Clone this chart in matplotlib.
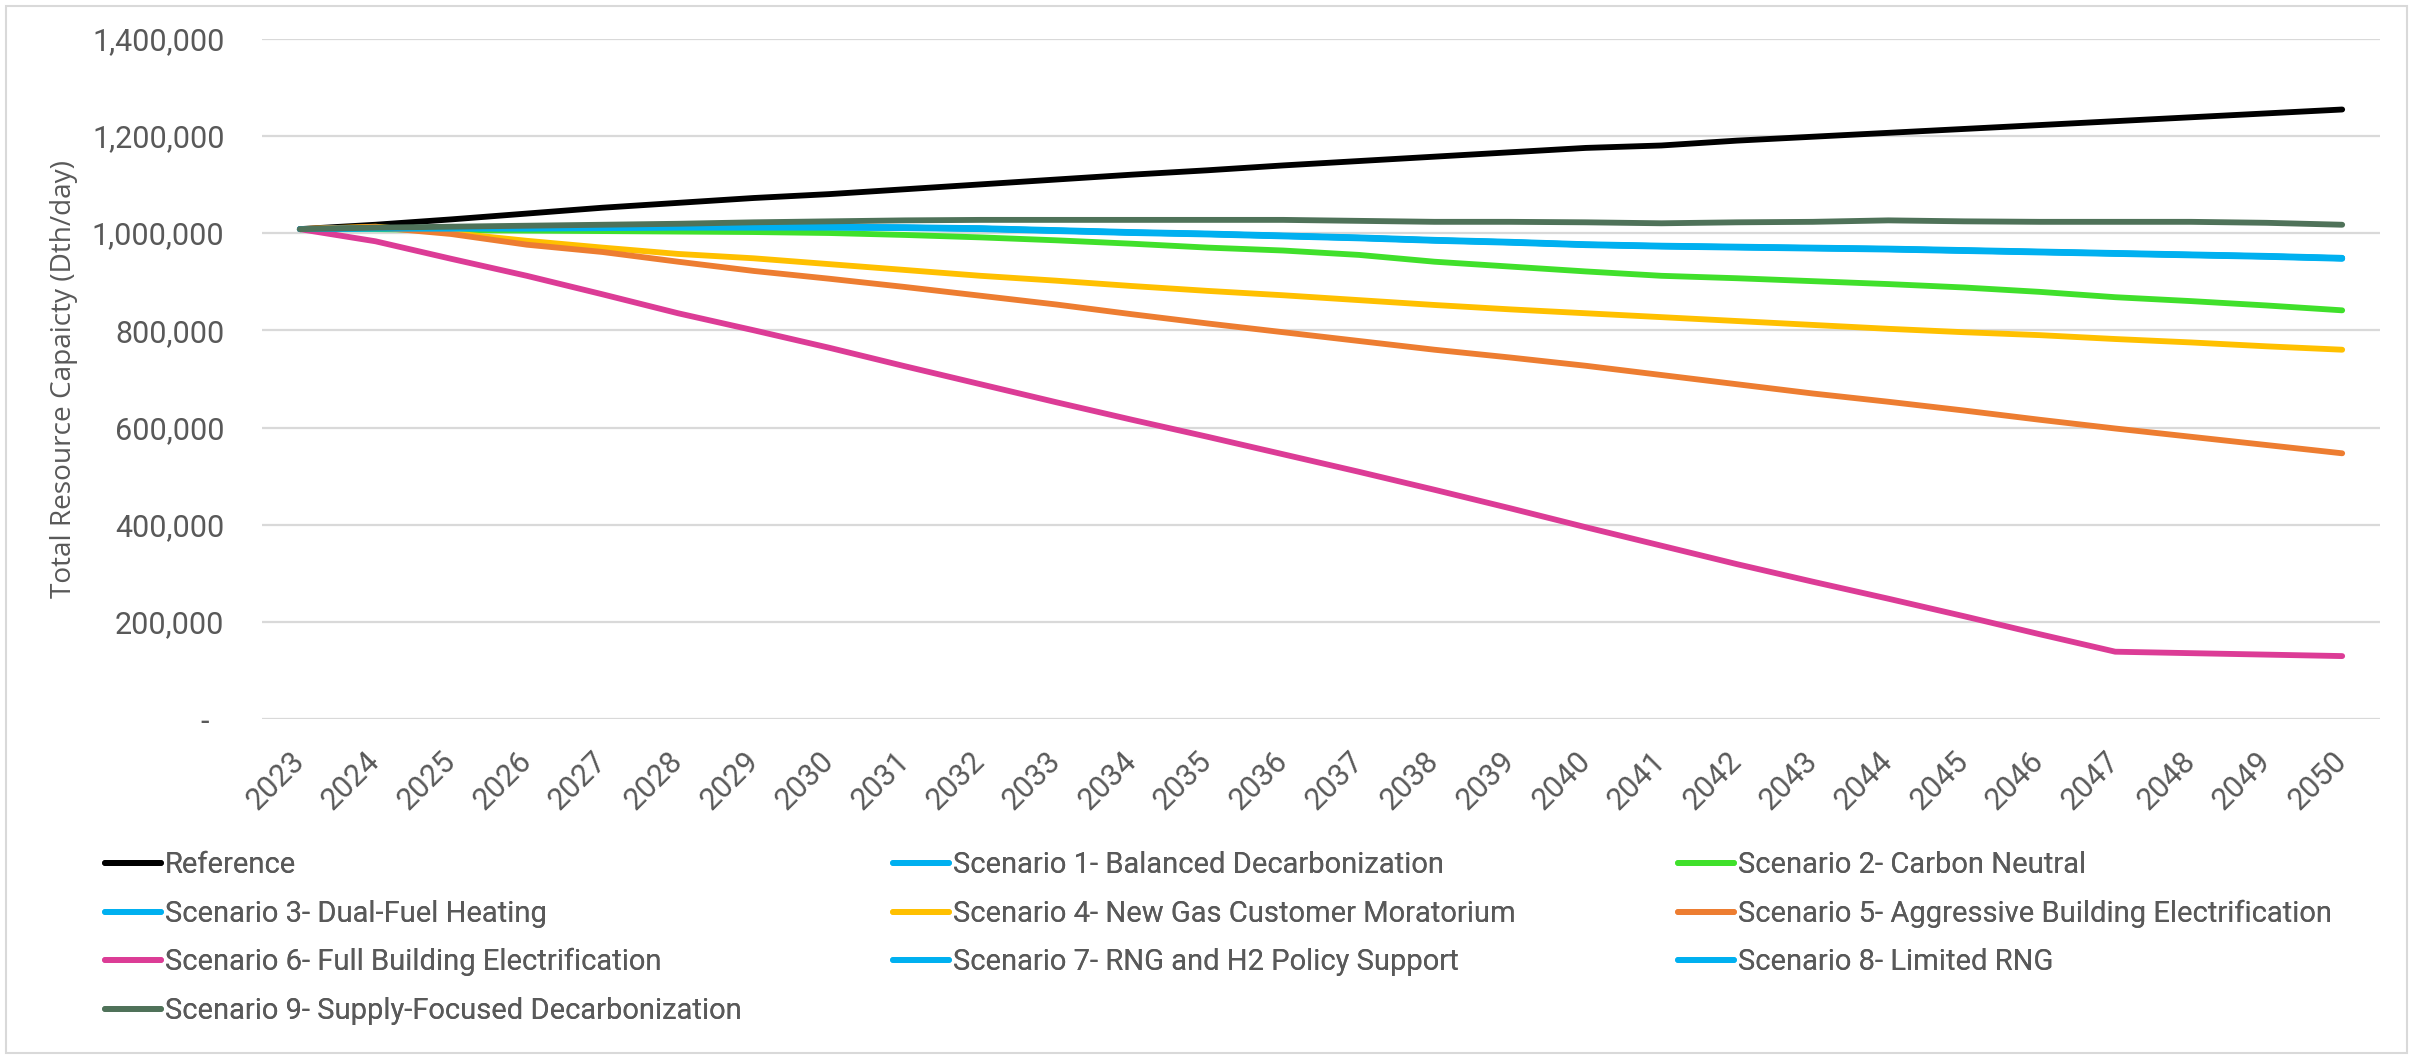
import matplotlib
matplotlib.use("Agg")
import matplotlib.pyplot as plt
from matplotlib.patches import Rectangle
from matplotlib.ticker import FuncFormatter, MultipleLocator
from matplotlib.textpath import TextPath
from matplotlib.font_manager import FontProperties

years = [str(y) for y in range(2023, 2051)]

reference = [1008000, 1017000, 1028000, 1040000, 1052000, 1062000, 1072000, 1080000,
             1090000, 1100000, 1110000, 1120000, 1129000, 1139000, 1148000, 1157000,
             1166000, 1175000, 1180000, 1190000, 1198000, 1206000, 1214000, 1222000,
             1230000, 1238000, 1246000, 1254000]
scenario1 = [1008000, 1010000, 1010000, 1010000, 1011000, 1012000, 1012000, 1012000,
             1011000, 1009000, 1005000, 1001000, 998000, 994000, 990000, 985000,
             981000, 976000, 973000, 971000, 969000, 967000, 964000, 961000,
             958000, 955000, 952000, 948000]
scenario2 = [1008000, 1008000, 1006000, 1005000, 1004000, 1003000, 1002000, 1000000,
             996000, 991000, 985000, 978000, 970000, 964000, 955000, 941000,
             931000, 921000, 912000, 907000, 901000, 895000, 888000, 879000,
             868000, 860000, 851000, 841000]
scenario3 = [1008000, 1010000, 1011000, 1011000, 1012000, 1013000, 1013000, 1013000,
             1012000, 1010000, 1006000, 1002000, 999000, 995000, 991000, 986000,
             982000, 977000, 974000, 972000, 970000, 968000, 965000, 962000,
             959000, 956000, 953000, 949000]
scenario4 = [1008000, 1013000, 1000000, 984000, 970000, 957000, 948000, 936000,
             924000, 912000, 902000, 891000, 881000, 872000, 862000, 852000,
             843000, 835000, 827000, 819000, 811000, 803000, 796000, 790000,
             782000, 775000, 767000, 760000]
scenario5 = [1008000, 1012000, 998000, 976000, 961000, 941000, 922000, 906000,
             889000, 871000, 853000, 833000, 814000, 796000, 778000, 760000,
             744000, 727000, 708000, 689000, 670000, 653000, 635000, 616000,
             598000, 581000, 564000, 547000]
scenario6 = [1008000, 983000, 947000, 912000, 874000, 835000, 800000, 764000,
             726000, 689000, 652000, 616000, 581000, 545000, 509000, 472000,
             434000, 395000, 357000, 319000, 283000, 248000, 212000, 175000,
             139000, 136000, 133000, 130000]
scenario7 = [1008000, 1009000, 1009000, 1009000, 1010000, 1011000, 1011000, 1011000,
             1010000, 1008000, 1004000, 1000000, 997000, 993000, 989000, 984000,
             980000, 975000, 972000, 970000, 968000, 966000, 963000, 960000,
             957000, 954000, 951000, 947000]
scenario8 = [1008000, 1010000, 1010000, 1010000, 1011000, 1012000, 1012000, 1012000,
             1011000, 1009000, 1005000, 1001000, 998000, 994000, 990000, 985000,
             981000, 976000, 973000, 971000, 969000, 967000, 964000, 961000,
             958000, 955000, 952000, 948000]
scenario9 = [1008000, 1011000, 1013000, 1015000, 1017000, 1019000, 1022000, 1024000,
             1026000, 1027000, 1027000, 1027000, 1027000, 1027000, 1025000, 1023000,
             1023000, 1022000, 1020000, 1022000, 1023000, 1026000, 1024000, 1023000,
             1023000, 1023000, 1021000, 1017000]

series_names = ["Reference",
                "Scenario 1- Balanced Decarbonization",
                "Scenario 2- Carbon Neutral",
                "Scenario 3- Dual-Fuel Heating",
                "Scenario 4- New Gas Customer Moratorium",
                "Scenario 5- Aggressive Building Electrification",
                "Scenario 6- Full Building Electrification",
                "Scenario 7- RNG and H2 Policy Support",
                "Scenario 8- Limited RNG",
                "Scenario 9- Supply-Focused Decarbonization"]
series_values = [reference, scenario1, scenario2, scenario3, scenario4,
                 scenario5, scenario6, scenario7, scenario8, scenario9]
colors = ["#000000", "#00B0F0", "#40E02B", "#00B0F0", "#FFC000",
          "#ED7D31", "#DC3C96", "#00B0F0", "#00B0F0", "#4F7259"]

TICK_FONT = "Roboto"
LABEL_FONT = "Open Sans"
GRAY = "#595959"
DPI = 100


def fit_size(text, family, target_px):
    """font size (pt) so that `text` is about target_px wide"""
    w = TextPath((0, 0), text, size=1, prop=FontProperties(family=family)).get_extents().width
    return target_px / w * 72 / DPI


tick_size = fit_size("1,400,000", TICK_FONT, 128)
legend_size = fit_size("Scenario 9- Supply-Focused Decarbonization", TICK_FONT, 574)
label_size = fit_size("Total Resource Capaicty (Dth/day)", LABEL_FONT, 437)

W, H = 2414, 1058
fig = plt.figure(figsize=(W / DPI, H / DPI), dpi=DPI)
fig.patch.set_facecolor("white")

# outer chart border
fig.add_artist(Rectangle((6 / W, 5 / H), (2407 - 6) / W, (1052 - 5) / H,
                         transform=fig.transFigure, fill=False,
                         edgecolor="#D9D9D9", linewidth=1.5))

left, right = 262 / W, 2380 / W
bottom, top = 1 - 719.3 / H, 1 - 38.5 / H
ax = fig.add_axes([left, bottom, right - left, top - bottom])

x = list(range(len(years)))
handles = []
for name, vals, c in zip(series_names, series_values, colors):
    ln, = ax.plot(x, vals, color=c, lw=4.2, solid_capstyle="round",
                  solid_joinstyle="round", label=name, zorder=3)
    handles.append(ln)

ax.set_xlim(-0.5, len(years) - 0.5)
ax.set_ylim(0, 1400000)
ax.yaxis.set_major_locator(MultipleLocator(200000))
ax.yaxis.set_major_formatter(FuncFormatter(lambda v, p: "-  " if v == 0 else f"{v:,.0f}"))
ax.grid(axis="y", color="#D9D9D9", linewidth=1.6, zorder=0)
ax.set_axisbelow(True)
for s in ax.spines.values():
    s.set_visible(False)
ax.tick_params(axis="both", length=0, colors=GRAY)
ax.tick_params(axis="y", pad=27)
ax.tick_params(axis="x", pad=27)

ax.set_xticks(x)
ax.set_xticklabels(years)
for lab in ax.get_xticklabels():
    lab.set_rotation(45)
    lab.set_ha("right")
    lab.set_va("center")
    lab.set_rotation_mode("anchor")
    lab.set_fontfamily(TICK_FONT)
    lab.set_fontsize(tick_size)
    lab.set_color(GRAY)
for lab in ax.get_yticklabels():
    lab.set_fontfamily(TICK_FONT)
    lab.set_fontsize(tick_size)
    lab.set_color(GRAY)

ax.set_ylabel("Total Resource Capaicty (Dth/day)", fontsize=label_size,
              family=LABEL_FONT, color=GRAY)
ax.yaxis.label.set_va("center")
ax.yaxis.set_label_coords((64 - 262) / (2380 - 262), 0.5)

# legend: three columns, row-major order as in the reference
f_px = legend_size * DPI / 72
cols = [[0, 3, 6, 9], [1, 4, 7], [2, 5, 8]]
col_x = [105, 893, 1678]
legend_top = 866 - 0.5 * f_px
for idx, cx in zip(cols, col_x):
    leg = fig.legend([handles[i] for i in idx], [series_names[i] for i in idx],
                     loc="upper left", bbox_to_anchor=(cx / W, 1 - legend_top / H),
                     frameon=False, borderpad=0, borderaxespad=0,
                     handlelength=56 / f_px, handletextpad=4 / f_px,
                     labelspacing=48.7 / f_px - 0.97,
                     prop={"family": TICK_FONT, "size": legend_size})
    for t in leg.get_texts():
        t.set_color(GRAY)
    fig.add_artist(leg)

fig.savefig("out.png", dpi=DPI, facecolor="white")
